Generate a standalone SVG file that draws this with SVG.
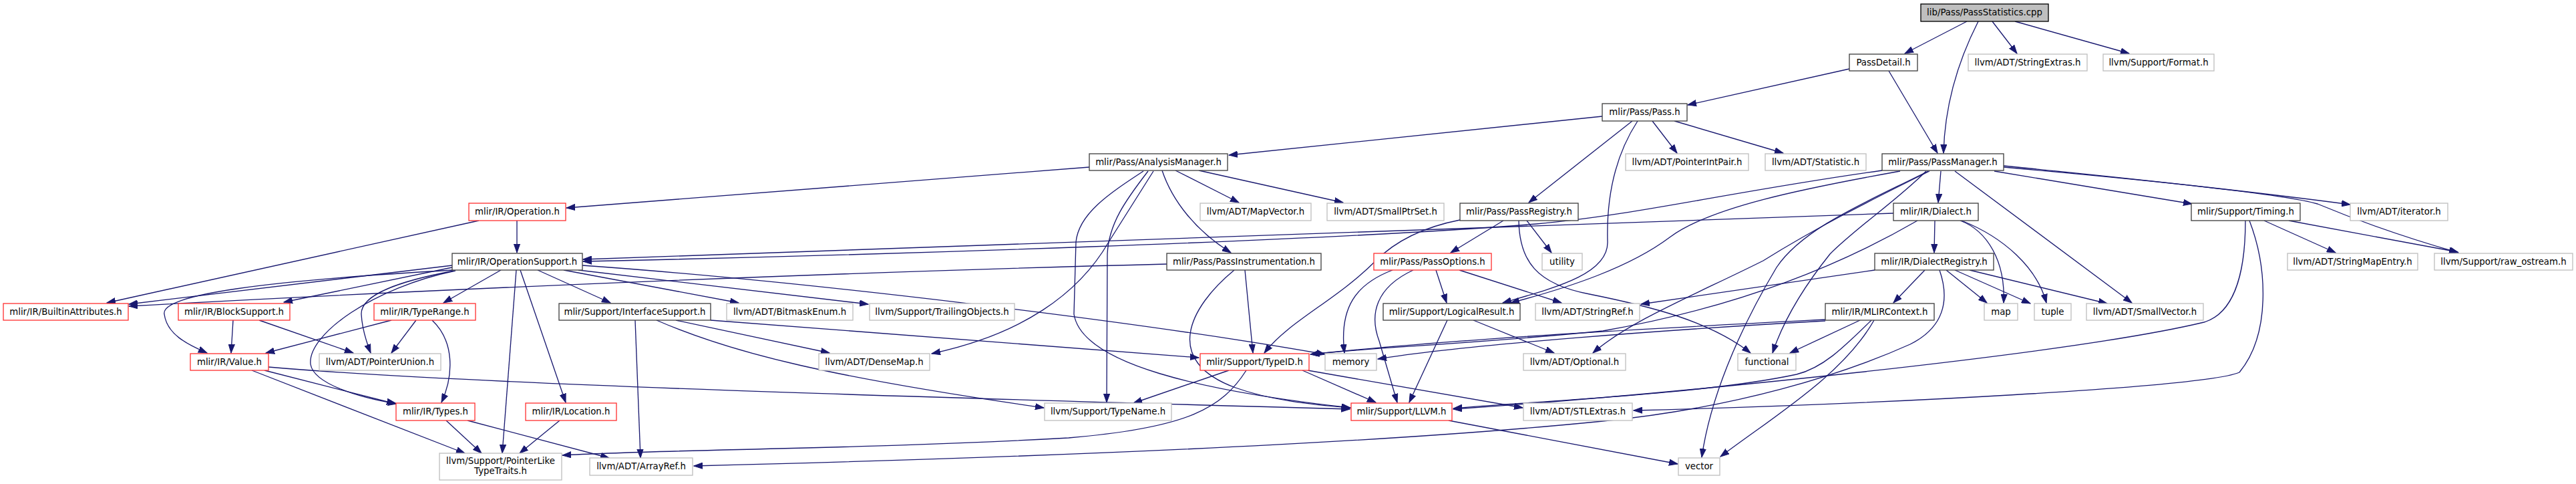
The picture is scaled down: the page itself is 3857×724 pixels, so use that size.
<svg xmlns="http://www.w3.org/2000/svg" width="3857" height="724" viewBox="0 0 3857 724">
<defs>
<style>
rect{fill:#fff;stroke-width:1.33}
.blk{stroke:#404040}
.red{stroke:#ff3333}
.gry{stroke:#bfbfbf}
.root{stroke:#000;fill:#bfbfbf}
text{font-family:"DejaVu Sans","Liberation Sans",sans-serif;font-size:13.3px;fill:#000;text-anchor:middle}
#edges path{fill:none;stroke:#191970;stroke-width:1.33;marker-end:url(#ah)}
</style>
<marker id="ah" markerWidth="14" markerHeight="10" refX="13" refY="5" orient="auto" markerUnits="userSpaceOnUse"><path d="M0,0.4 L13,5 L0,9.6 z" fill="#191970" stroke="#191970" stroke-width="1"/></marker>
</defs>
<rect x="0" y="0" width="3857" height="724" fill="#fff" stroke="none"/>
<g id="edges">
<path d="M2945,32 L2852,80"/>
<path d="M2962,32 C2935,85 2912,150 2910,229"/>
<path d="M2983,32 L3020,80"/>
<path d="M3017,32 L3188,80"/>
<path d="M2769,103 L2527,157"/>
<path d="M2828,106 L2901,229"/>
<path d="M2399,174 L1840,232"/>
<path d="M2444,181 L2289,303"/>
<path d="M2452,181 C2420,230 2405,290 2407,362 C2408,410 2330,430 2250,453"/>
<path d="M2474,181 L2511,229"/>
<path d="M2507,181 L2670,229"/>
<path d="M1631,250 L848,311"/>
<path d="M1740,255 C1755,300 1790,345 1843,378"/>
<path d="M1712,256 C1660,290 1615,320 1611,362 L1608,470 C1620,545 1800,585 2022,610"/>
<path d="M1727,256 L1660,362 C1615,440 1530,500 1395,529"/>
<path d="M1760,255 L1855,303"/>
<path d="M1795,255 L2011,303"/>
<path d="M1719,256 C1685,300 1660,335 1658,380 L1657,602"/>
<path d="M2906,256 L2902,303"/>
<path d="M2818,255 C2600,285 2450,322 2300,335 C2000,360 1300,382 873,391"/>
<path d="M2845,256 C2700,282 2560,310 2500,355 C2440,400 2350,430 2262,453"/>
<path d="M2986,256 L3282,305"/>
<path d="M2889,256 C2800,300 2720,340 2640,390 C2540,440 2440,480 2385,528"/>
<path d="M2927,256 L3192,453"/>
<path d="M3000,248 C3200,268 3400,290 3519,306"/>
<path d="M3000,250 C3200,268 3420,290 3470,305 C3530,330 3600,355 3681,378"/>
<path d="M2884,256 C2840,300 2780,340 2740,380 C2700,430 2670,480 2654,528"/>
<path d="M2887,256 C2800,300 2700,340 2660,400 C2600,500 2560,600 2548,684"/>
<path d="M774,330 L774,378"/>
<path d="M717,330 L160,453"/>
<path d="M2251,330 L2172,378"/>
<path d="M2186,329 C2130,340 2090,360 2060,390 C2000,450 1930,480 1893,528"/>
<path d="M2274,330 C2275,390 2300,425 2380,440 C2470,458 2560,480 2621,528"/>
<path d="M2286,330 L2323,378"/>
<path d="M2085,404 C2030,425 2005,460 2013,528"/>
<path d="M2116,404 C2060,430 2050,470 2065,510 L2092,602"/>
<path d="M2150,404 L2166,453"/>
<path d="M2185,404 L2338,453"/>
<path d="M1747,395 C1300,406 700,430 193,458"/>
<path d="M1848,404 C1780,460 1740,540 1850,580 C1900,598 1960,605 2022,610"/>
<path d="M1864,404 L1876,528"/>
<path d="M677,397 L193,455"/>
<path d="M677,400 L425,452"/>
<path d="M678,404 C400,420 240,440 246,470 C250,500 280,515 310,528"/>
<path d="M680,405 C600,420 540,440 541,470 C542,490 548,510 555,528"/>
<path d="M682,405 C560,430 460,500 465,545 C470,575 540,595 594,604"/>
<path d="M750,404 L664,453"/>
<path d="M773,404 L752,678"/>
<path d="M779,404 L847,602"/>
<path d="M805,404 L914,453"/>
<path d="M844,404 L1106,453"/>
<path d="M866,404 L1300,455"/>
<path d="M872,397 C1200,420 1700,480 1984,530"/>
<path d="M1064,479 L1795,535"/>
<path d="M1012,479 L1242,528"/>
<path d="M983,479 C1100,530 1250,565 1563,610"/>
<path d="M951,479 L959,685"/>
<path d="M349,479 L346,528"/>
<path d="M388,479 L529,528"/>
<path d="M586,479 L398,528"/>
<path d="M623,479 L586,528"/>
<path d="M647,479 C680,510 680,560 661,602"/>
<path d="M396,554 L592,604"/>
<path d="M402,549 C700,575 1400,595 2021,612"/>
<path d="M377,554 L696,678"/>
<path d="M668,629 L721,678"/>
<path d="M700,629 L912,685"/>
<path d="M838,629 L778,678"/>
<path d="M1840,554 L1697,603"/>
<path d="M1950,554 L2060,602"/>
<path d="M1958,554 L2280,610"/>
<path d="M1866,554 C1830,610 1780,640 1600,655 C1300,672 1000,672 842,681"/>
<path d="M2167,479 L2110,602"/>
<path d="M2206,479 L2327,528"/>
<path d="M2169,629 L2512,694"/>
<path d="M2835,319 L873,388"/>
<path d="M2897,330 L2896,378"/>
<path d="M2871,330 C2750,400 2600,460 2400,495 C2200,515 2050,520 1962,530"/>
<path d="M2935,330 C2975,345 3003,390 3000,453"/>
<path d="M2937,330 C3000,355 3050,400 3064,453"/>
<path d="M2807,404 L2457,455"/>
<path d="M2882,404 L2835,453"/>
<path d="M2904,404 C2920,450 2910,490 2860,515 C2760,560 2600,610 2400,630 C2000,670 1400,688 1039,697"/>
<path d="M2914,404 L2975,453"/>
<path d="M2927,404 L3040,454"/>
<path d="M2949,404 L3155,454"/>
<path d="M2733,478 C2500,490 2200,505 1963,530"/>
<path d="M2733,480 C2500,493 2200,515 2063,537"/>
<path d="M2785,479 L2680,528"/>
<path d="M2802,479 C2760,520 2730,550 2690,560 C2550,590 2300,600 2176,611"/>
<path d="M2806,479 C2760,560 2660,620 2576,683"/>
<path d="M3390,330 L3497,378"/>
<path d="M3427,330 L3680,377"/>
<path d="M3362,330 C3362,420 3340,470 3300,482 C3100,530 2500,590 2176,612"/>
<path d="M3368,330 C3395,400 3400,500 3353,557 C3300,580 2800,605 2446,614"/>
</g>
<g id="n_root"><rect class="root" x="2876" y="6" width="191" height="26"/><text x="2971.5" y="22.5">lib/Pass/PassStatistics.cpp</text></g>
<g id="n_passdetail"><rect class="blk" x="2769" y="81" width="102" height="25"/><text x="2820" y="97.5">PassDetail.h</text></g>
<g id="n_stringextras"><rect class="gry" x="2947" y="81" width="178" height="25"/><text x="3036" y="97.5">llvm/ADT/StringExtras.h</text></g>
<g id="n_format"><rect class="gry" x="3149" y="81" width="166" height="25"/><text x="3232" y="97.5">llvm/Support/Format.h</text></g>
<g id="n_pass"><rect class="blk" x="2399" y="155" width="127" height="26"/><text x="2462.5" y="172">mlir/Pass/Pass.h</text></g>
<g id="n_analysismanager"><rect class="blk" x="1631" y="230" width="207" height="25"/><text x="1734.5" y="246.5">mlir/Pass/AnalysisManager.h</text></g>
<g id="n_pointerintpair"><rect class="gry" x="2434" y="230" width="184" height="25"/><text x="2526" y="246.5">llvm/ADT/PointerIntPair.h</text></g>
<g id="n_statistic"><rect class="gry" x="2643" y="230" width="151" height="25"/><text x="2718.5" y="246.5">llvm/ADT/Statistic.h</text></g>
<g id="n_passmanager"><rect class="blk" x="2818" y="230" width="182" height="25"/><text x="2909" y="246.5">mlir/Pass/PassManager.h</text></g>
<g id="n_operation"><rect class="red" x="702" y="304" width="145" height="26"/><text x="774.5" y="321">mlir/IR/Operation.h</text></g>
<g id="n_mapvector"><rect class="gry" x="1797" y="304" width="166" height="26"/><text x="1880" y="321">llvm/ADT/MapVector.h</text></g>
<g id="n_smallptrset"><rect class="gry" x="1987" y="304" width="175" height="26"/><text x="2074.5" y="321">llvm/ADT/SmallPtrSet.h</text></g>
<g id="n_passregistry"><rect class="blk" x="2186" y="304" width="177" height="26"/><text x="2274.5" y="321">mlir/Pass/PassRegistry.h</text></g>
<g id="n_dialect"><rect class="blk" x="2835" y="304" width="127" height="26"/><text x="2898.5" y="321">mlir/IR/Dialect.h</text></g>
<g id="n_timing"><rect class="blk" x="3281" y="304" width="163" height="26"/><text x="3362.5" y="321">mlir/Support/Timing.h</text></g>
<g id="n_iterator"><rect class="gry" x="3519" y="304" width="146" height="26"/><text x="3592" y="321">llvm/ADT/iterator.h</text></g>
<g id="n_operationsupport"><rect class="blk" x="677" y="379" width="195" height="25"/><text x="774.5" y="395.5">mlir/IR/OperationSupport.h</text></g>
<g id="n_passinstrumentation"><rect class="blk" x="1747" y="379" width="231" height="25"/><text x="1862.5" y="395.5">mlir/Pass/PassInstrumentation.h</text></g>
<g id="n_passoptions"><rect class="red" x="2057" y="379" width="176" height="25"/><text x="2145" y="395.5">mlir/Pass/PassOptions.h</text></g>
<g id="n_utility"><rect class="gry" x="2309" y="379" width="60" height="25"/><text x="2339" y="395.5">utility</text></g>
<g id="n_dialectregistry"><rect class="blk" x="2807" y="379" width="178" height="25"/><text x="2896" y="395.5">mlir/IR/DialectRegistry.h</text></g>
<g id="n_stringmapentry"><rect class="gry" x="3425" y="379" width="195" height="25"/><text x="3522.5" y="395.5">llvm/ADT/StringMapEntry.h</text></g>
<g id="n_raw_ostream"><rect class="gry" x="3645" y="379" width="207" height="25"/><text x="3748.5" y="395.5">llvm/Support/raw_ostream.h</text></g>
<g id="n_builtinattributes"><rect class="red" x="5" y="454" width="187" height="25"/><text x="98.5" y="470.5">mlir/IR/BuiltinAttributes.h</text></g>
<g id="n_blocksupport"><rect class="red" x="267" y="454" width="167" height="25"/><text x="350.5" y="470.5">mlir/IR/BlockSupport.h</text></g>
<g id="n_typerange"><rect class="red" x="560" y="454" width="152" height="25"/><text x="636" y="470.5">mlir/IR/TypeRange.h</text></g>
<g id="n_interfacesupport"><rect class="blk" x="837" y="454" width="227" height="25"/><text x="950.5" y="470.5">mlir/Support/InterfaceSupport.h</text></g>
<g id="n_bitmaskenum"><rect class="gry" x="1088" y="454" width="189" height="25"/><text x="1182.5" y="470.5">llvm/ADT/BitmaskEnum.h</text></g>
<g id="n_trailingobjects"><rect class="gry" x="1302" y="454" width="217" height="25"/><text x="1410.5" y="470.5">llvm/Support/TrailingObjects.h</text></g>
<g id="n_logicalresult"><rect class="blk" x="2071" y="454" width="205" height="25"/><text x="2173.5" y="470.5">mlir/Support/LogicalResult.h</text></g>
<g id="n_stringref"><rect class="gry" x="2299" y="454" width="156" height="25"/><text x="2377" y="470.5">llvm/ADT/StringRef.h</text></g>
<g id="n_mlircontext"><rect class="blk" x="2733" y="454" width="163" height="25"/><text x="2814.5" y="470.5">mlir/IR/MLIRContext.h</text></g>
<g id="n_map"><rect class="gry" x="2971" y="454" width="50" height="25"/><text x="2996" y="470.5">map</text></g>
<g id="n_tuple"><rect class="gry" x="3046" y="454" width="55" height="25"/><text x="3073.5" y="470.5">tuple</text></g>
<g id="n_smallvector"><rect class="gry" x="3124" y="454" width="175" height="25"/><text x="3211.5" y="470.5">llvm/ADT/SmallVector.h</text></g>
<g id="n_value"><rect class="red" x="285" y="529" width="117" height="25"/><text x="343.5" y="545.5">mlir/IR/Value.h</text></g>
<g id="n_pointerunion"><rect class="gry" x="478" y="529" width="182" height="25"/><text x="569" y="545.5">llvm/ADT/PointerUnion.h</text></g>
<g id="n_densemap"><rect class="gry" x="1226" y="529" width="166" height="25"/><text x="1309" y="545.5">llvm/ADT/DenseMap.h</text></g>
<g id="n_typeid"><rect class="red" x="1797" y="529" width="163" height="25"/><text x="1878.5" y="545.5">mlir/Support/TypeID.h</text></g>
<g id="n_memory"><rect class="gry" x="1984" y="529" width="77" height="25"/><text x="2022.5" y="545.5">memory</text></g>
<g id="n_optional"><rect class="gry" x="2281" y="529" width="153" height="25"/><text x="2357.5" y="545.5">llvm/ADT/Optional.h</text></g>
<g id="n_functional"><rect class="gry" x="2602" y="529" width="87" height="25"/><text x="2645.5" y="545.5">functional</text></g>
<g id="n_types"><rect class="red" x="593" y="603" width="118" height="26"/><text x="652" y="620">mlir/IR/Types.h</text></g>
<g id="n_location"><rect class="red" x="787" y="603" width="136" height="26"/><text x="855" y="620">mlir/IR/Location.h</text></g>
<g id="n_typename"><rect class="gry" x="1564" y="603" width="190" height="26"/><text x="1659" y="620">llvm/Support/TypeName.h</text></g>
<g id="n_llvm"><rect class="red" x="2023" y="603" width="151" height="26"/><text x="2098.5" y="620">mlir/Support/LLVM.h</text></g>
<g id="n_stlextras"><rect class="gry" x="2281" y="603" width="163" height="26"/><text x="2362.5" y="620">llvm/ADT/STLExtras.h</text></g>
<g id="n_pointerliketypetraits"><rect class="gry" x="658" y="678" width="183" height="40"/><text x="749.5" y="694">llvm/Support/PointerLike</text><text x="749.5" y="709">TypeTraits.h</text></g>
<g id="n_arrayref"><rect class="gry" x="883" y="685" width="154" height="26"/><text x="960" y="702">llvm/ADT/ArrayRef.h</text></g>
<g id="n_vector"><rect class="gry" x="2513" y="685" width="62" height="26"/><text x="2544" y="702">vector</text></g>
</svg>
